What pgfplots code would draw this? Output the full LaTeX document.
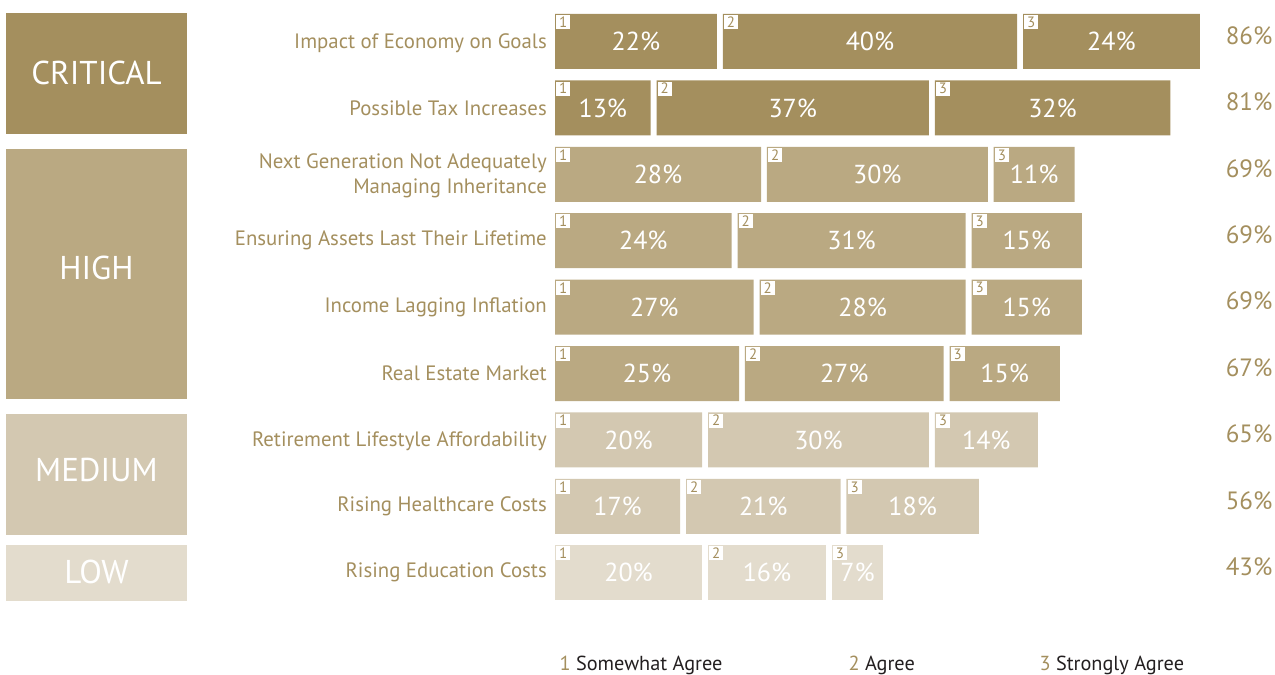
\documentclass[border=0pt]{standalone}
\usepackage{fontspec}
\setmainfont{PT Sans}
\usepackage{pgfplots}
\usepackage{pgfplotstable}
\pgfplotsset{compat=1.18}
\definecolor{gCrit}{RGB}{164,143,94}
\definecolor{gHigh}{RGB}{186,169,130}
\definecolor{gMed}{RGB}{211,200,177}
\definecolor{gLow}{RGB}{227,220,205}
\definecolor{legText}{RGB}{35,31,32}

% y = row centre (px from top), a/b/c = Somewhat/Agree/Strongly, g/h = gaps, t = total
\pgfplotstableread{
y a g b h c t
41.5 22 0.8 40 0.8 24 86
107.9 13 0.8 37 0.8 32 81
}\critical
\pgfplotstableread{
y a g b h c t
174.3 28 0.8 30 0.8 11 69
240.7 24 0.8 31 0.8 15 69
307.1 27 0.8 28 0.8 15 69
373.5 25 0.8 27 0.8 15 67
}\high
\pgfplotstableread{
y a g b h c t
439.9 20 0.8 30 0.8 14 65
506.3 17 0.8 21 0.8 18 56
}\medium
\pgfplotstableread{
y a g b h c t
572.7 20 0.8 16 0.8 7 43
}\low
\pgfplotstablevertcat{\allrows}{\critical}
\pgfplotstablevertcat{\allrows}{\high}
\pgfplotstablevertcat{\allrows}{\medium}
\pgfplotstablevertcat{\allrows}{\low}

\newcommand\pctfont{\fontsize{26}{30}\selectfont}
\newcommand\totfont{\fontsize{25}{30}\selectfont}
\newcommand\lblfont{\fontsize{20.8}{25}\selectfont}
\newcommand\legfont{\fontsize{20.3}{25}\selectfont}
\newcommand\catfont{\fontsize{33}{38}\selectfont}
\newcommand\numfont{\fontsize{15}{15}\selectfont}

\pgfplotsset{
  base/.style={at={(555pt,0pt)}, anchor=south west, scale only axis,
    width=720pt, height=675pt, xmin=0, xmax=97.826, ymin=0, ymax=675,
    y dir=reverse, clip=false},
  barax/.style={base, hide axis, xbar stacked, bar width=55},
  seg/.style={draw=none, fill=#1},
  gap/.style={draw=none, fill=none},
  lab/.style={draw=none, mark=none, point meta=explicit symbolic,
    nodes near coords={\pgfplotspointmeta\%},
    every node near coord/.append style={anchor=center, font=\pctfont, text=white}},
  numbox/.style={draw=none, mark=none,
    nodes near coords={#1},
    every node near coord/.append style={anchor=north west, font=\numfont, text=gCrit,
      fill=white, inner sep=0pt, minimum width=14pt, minimum height=14pt, xshift=1pt, yshift=-1pt}},
}

\begin{document}
\begin{tikzpicture}
% category boxes
\begin{scope}[x=1pt,y=-1pt,shift={(0pt,675pt)}]
\fill[gCrit] (6,13) rectangle (187,134);
\fill[gHigh] (6,149) rectangle (187,399);
\fill[gMed] (6,414) rectangle (187,535);
\fill[gLow] (6,545) rectangle (187,601);
\node[text=white, font=\catfont] at (96.5,73) {CRITICAL};
\node[text=white, font=\catfont] at (96.5,268) {HIGH};
\node[text=white, font=\catfont] at (96.5,470) {MEDIUM};
\node[text=white, font=\catfont] at (96.5,572) {LOW};
\node[anchor=base west, font=\legfont, text=legText] at (556,670) {{\color{gCrit}1} Somewhat Agree};
\node[anchor=base west, font=\legfont, text=legText] at (845,670) {{\color{gCrit}2} Agree};
\node[anchor=base west, font=\legfont, text=legText] at (1036,670) {{\color{gCrit}3} Strongly Agree};
\end{scope}

\begin{axis}[barax]
\addplot[seg=gCrit] table[x=a,y=y]{\critical};
\addplot[gap] table[x=g,y=y]{\critical};
\addplot[seg=gCrit] table[x=b,y=y]{\critical};
\addplot[gap] table[x=h,y=y]{\critical};
\addplot[seg=gCrit] table[x=c,y=y]{\critical};
\end{axis}
\begin{axis}[barax]
\addplot[seg=gHigh] table[x=a,y=y]{\high};
\addplot[gap] table[x=g,y=y]{\high};
\addplot[seg=gHigh] table[x=b,y=y]{\high};
\addplot[gap] table[x=h,y=y]{\high};
\addplot[seg=gHigh] table[x=c,y=y]{\high};
\end{axis}
\begin{axis}[barax]
\addplot[seg=gMed] table[x=a,y=y]{\medium};
\addplot[gap] table[x=g,y=y]{\medium};
\addplot[seg=gMed] table[x=b,y=y]{\medium};
\addplot[gap] table[x=h,y=y]{\medium};
\addplot[seg=gMed] table[x=c,y=y]{\medium};
\end{axis}
\begin{axis}[barax]
\addplot[seg=gLow] table[x=a,y=y]{\low};
\addplot[gap] table[x=g,y=y]{\low};
\addplot[seg=gLow] table[x=b,y=y]{\low};
\addplot[gap] table[x=h,y=y]{\low};
\addplot[seg=gLow] table[x=c,y=y]{\low};
\end{axis}

\begin{axis}[base, xtick=\empty,
  ytick={43,107.9,175.5,240.7,307.1,373.5,441,506.3,572.7},
  yticklabels={Impact of Economy on Goals, Possible Tax Increases,
    {Next Generation Not Adequately\\Managing Inheritance},
    Ensuring Assets Last Their Lifetime, Income Lagging Inflation,
    Real Estate Market, Retirement Lifestyle Affordability,
    Rising Healthcare Costs, Rising Education Costs},
  yticklabel style={font=\lblfont, text=gCrit, align=right, anchor=east, inner sep=0pt, xshift=-8pt},
  major tick length=0pt, axis line style={draw=none}]
\addplot[lab] table[x expr=\thisrow{a}/2, y=y, meta=a]{\allrows};
\addplot[lab] table[x expr=\thisrow{a}+\thisrow{g}+\thisrow{b}/2, y=y, meta=b]{\allrows};
\addplot[lab] table[x expr=\thisrow{a}+\thisrow{g}+\thisrow{b}+\thisrow{h}+\thisrow{c}/2, y=y, meta=c]{\allrows};
\addplot[numbox=1] table[x expr=0, y expr=\thisrow{y}-27.5]{\allrows};
\addplot[numbox=2] table[x expr=\thisrow{a}+\thisrow{g}, y expr=\thisrow{y}-27.5]{\allrows};
\addplot[numbox=3] table[x expr=\thisrow{a}+\thisrow{g}+\thisrow{b}+\thisrow{h}, y expr=\thisrow{y}-27.5]{\allrows};
\addplot[draw=none, mark=none, point meta=explicit symbolic,
  nodes near coords={\pgfplotspointmeta\%},
  every node near coord/.append style={anchor=east, font=\totfont, text=gCrit}]
  table[x expr=97.95, y expr=\thisrow{y}-6, meta=t]{\allrows};
\end{axis}
\pgfresetboundingbox
\path[use as bounding box] (0,0) rectangle (1275pt,675pt);
\end{tikzpicture}
\end{document}
